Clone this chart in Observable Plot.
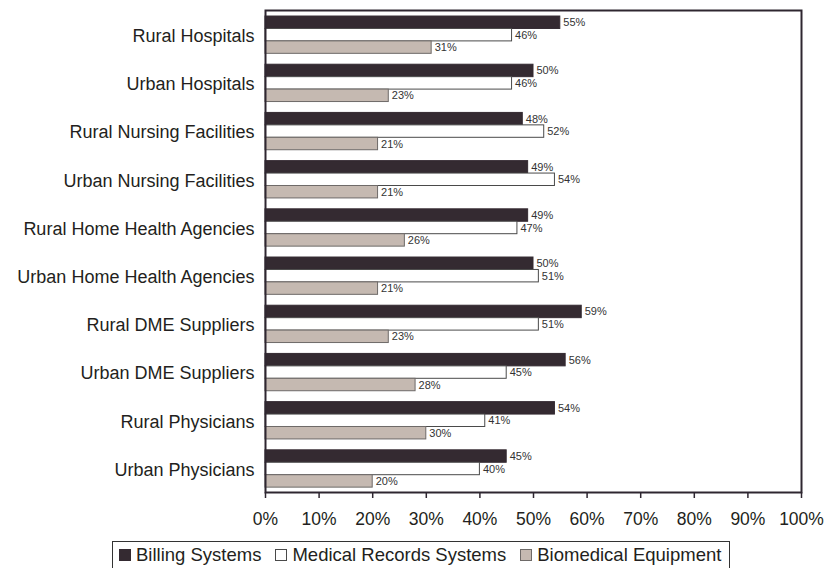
<!DOCTYPE html>
<html>
<head>
<meta charset="utf-8">
<script src="https://cdn.jsdelivr.net/npm/d3@7"></script>
<script src="https://cdn.jsdelivr.net/npm/@observablehq/plot@0.6"></script>
<style>
  body { margin: 0; background: #fff; font-family: "Liberation Sans", Arial, sans-serif; }
  #chart svg { display: block; }
  #chart [aria-label^="x-axis"] text { font-size: 17.5px; fill: #231f20; }
  #chart [aria-label^="y-axis"] text { font-size: 18px; fill: #231f20; }
  .legend { display: inline-flex; align-items: center; margin-left: 112px; margin-top: 6px;
    border: 1px solid #333; padding: 2px 8px 6px 6px; font-size: 18.5px; color: #231f20; white-space: nowrap; }
  .legend .sw { display: inline-block; width: 10px; height: 10px; border: 1px solid #444; margin-right: 5px; }
  .legend .item { display: inline-flex; align-items: center; margin-right: 14px; }
  .legend .item:last-child { margin-right: 0; }
</style>
</head>
<body>
<div id="chart"></div>
<script>
const categories = [
  "Rural Hospitals", "Urban Hospitals", "Rural Nursing Facilities", "Urban Nursing Facilities",
  "Rural Home Health Agencies", "Urban Home Health Agencies", "Rural DME Suppliers",
  "Urban DME Suppliers", "Rural Physicians", "Urban Physicians"
];
const seriesNames = ["Billing Systems", "Medical Records Systems", "Biomedical Equipment"];
const billing =    [55, 50, 48, 49, 49, 50, 59, 56, 54, 45];
const medical =    [46, 46, 52, 54, 47, 51, 51, 45, 41, 40];
const biomedical = [31, 23, 21, 21, 26, 21, 23, 28, 30, 20];
const xTicks = [0, 10, 20, 30, 40, 50, 60, 70, 80, 90, 100];

const fills = ["#342a31", "#ffffff", "#c5b9b1"];
const strokes = ["#342a31", "#4a4a4a", "#6e6a68"];

// group layout in band units: each category occupies [i, i+1]
const barStart = 0.125, barH = 0.258;
const seriesValues = [billing, medical, biomedical];
const rows = [];
categories.forEach((c, i) => {
  seriesValues.forEach((vals, j) => {
    const y1 = i + barStart + j * barH;
    rows.push({ category: c, series: seriesNames[j], s: j, value: vals[i], y1, y2: y1 + barH, ym: y1 + barH / 2 });
  });
});
const centers = categories.map((c, i) => i + barStart + 1.5 * barH + 0.02);

const plot = Plot.plot({
  width: 826,
  height: 535,
  marginLeft: 265,
  marginRight: 25,
  marginTop: 10,
  marginBottom: 43,
  style: { fontFamily: "'Liberation Sans', Arial, sans-serif", background: "#fff", color: "#231f20" },
  x: { domain: [0, 100], ticks: xTicks, tickFormat: d => d + "%", tickSize: 6, tickPadding: 14, label: null },
  y: { domain: [0, 10], reverse: true, ticks: centers, tickFormat: (d) => categories[Math.floor(d)], tickSize: 0, tickPadding: 11, label: null },
  marks: [
    Plot.rectX(rows, { x1: 0, x2: "value", y1: "y1", y2: "y2",
      fill: d => fills[d.s], stroke: d => strokes[d.s], strokeWidth: 1 }),
    Plot.text(rows, { x: "value", y: "ym", text: d => d.value + "%", textAnchor: "start", dx: 3,
      fontSize: 11, fill: "#333333" }),
    Plot.frame({ stroke: "#2e2630", strokeWidth: 2 })
  ]
});
plot.querySelectorAll('[aria-label^="x-axis"] path, [aria-label^="x-axis"] line').forEach(p => { p.setAttribute("stroke", "#2e2630"); p.setAttribute("stroke-width", "1.5"); });
document.getElementById("chart").appendChild(plot);

const legend = document.createElement("div");
legend.className = "legend";
seriesNames.forEach((name, j) => {
  const item = document.createElement("span");
  item.className = "item";
  const sw = document.createElement("span");
  sw.className = "sw";
  sw.style.background = fills[j];
  sw.style.borderColor = j === 0 ? fills[0] : strokes[j];
  item.appendChild(sw);
  item.appendChild(document.createTextNode(name));
  legend.appendChild(item);
});
document.getElementById("chart").appendChild(legend);
</script>
</body>
</html>
